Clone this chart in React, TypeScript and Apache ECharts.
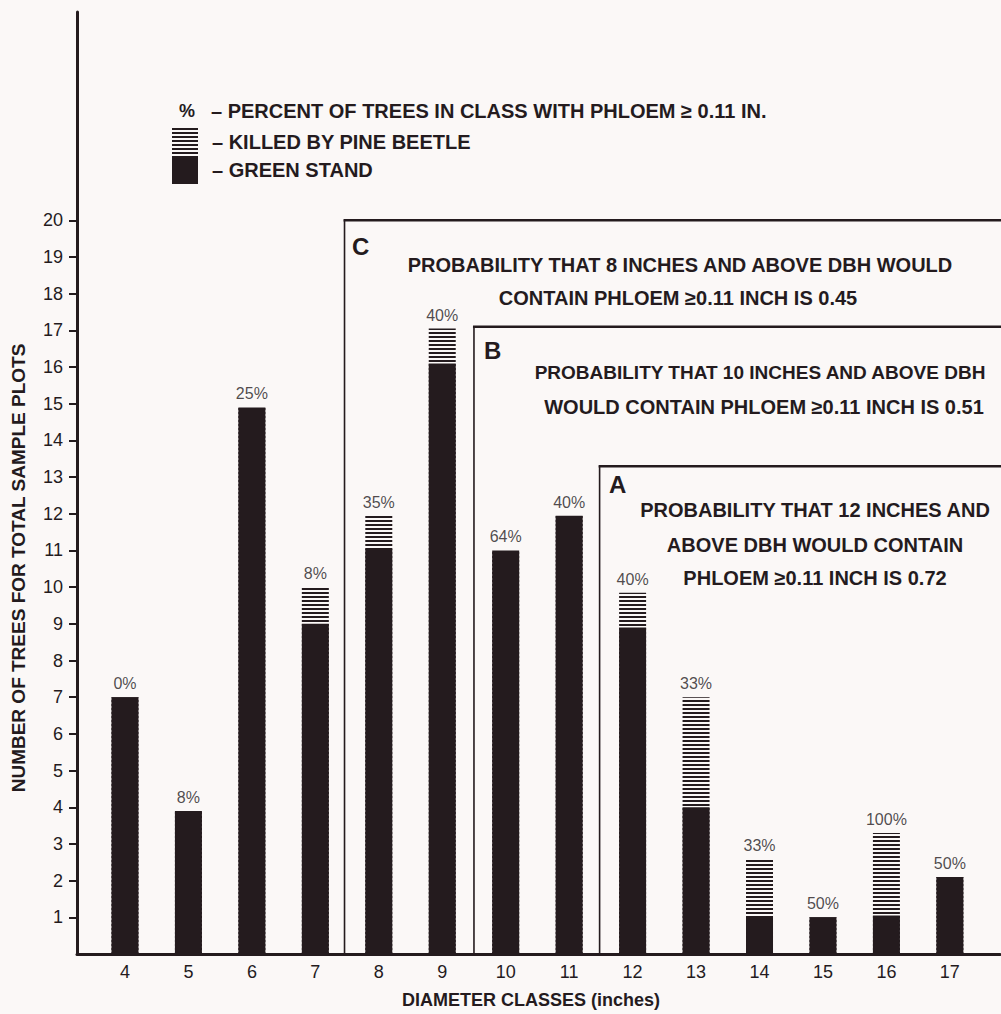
import React, { useEffect, useRef } from "react";
import * as echarts from "echarts";

// ---- data ----
const classes = [4, 5, 6, 7, 8, 9, 10, 11, 12, 13, 14, 15, 16, 17];
const greenStand = [7, 3.9, 14.9, 9, 11.05, 16.1, 11, 11.95, 8.9, 4, 1, 1, 1.05, 2.1];
const killedByBeetle = [0, 0, 0, 1, 0.9, 0.95, 0, 0, 0.95, 3, 1.6, 0, 2.25, 0];
const percentLabels = ["0%", "8%", "25%", "8%", "35%", "40%", "64%", "40%", "40%", "33%", "33%", "50%", "100%", "50%"];
const yTickValues = [1, 2, 3, 4, 5, 6, 7, 8, 9, 10, 11, 12, 13, 14, 15, 16, 17, 18, 19, 20];
const boxLetters = ["C", "B", "A"];
const boxLeft = [7.46, 9.5, 11.48];
const boxTop = [20, 17.1, 13.3];

const INK = "#241b1e";
const BG = "#fbf8f7";
const FONT = "'Liberation Sans', Arial, sans-serif";

export default function App() {
  const ref = useRef<HTMLDivElement>(null);

  useEffect(() => {
    if (!ref.current) return;
    const chart = echarts.init(ref.current, undefined, { renderer: "svg" });

    const c = document.createElement("canvas");
    c.width = 4;
    c.height = 4;
    const ctx = c.getContext("2d")!;
    ctx.fillStyle = BG;
    ctx.fillRect(0, 0, 4, 4);
    ctx.fillStyle = INK;
    ctx.fillRect(0, 0, 4, 2);
    const hatch: any = { image: c.toDataURL(), repeat: "repeat", imageWidth: 4, imageHeight: 4 };

    // total height of each bar = green stand + killed by beetle
    const totals = classes.map((_, i) => greenStand[i] + killedByBeetle[i]);
    const boldText = (text: string, x: number, y: number, size = 20, align = "center") => ({
      type: "text",
      x,
      y,
      style: {
        text,
        fill: INK,
        font: `bold ${size}px ${FONT}`,
        textAlign: align,
        textVerticalAlign: "middle",
      },
    });

    const option: any = {
      animation: false,
      backgroundColor: BG,
      textStyle: { fontFamily: FONT, color: INK },
      grid: { left: 77, right: 1, top: 12, bottom: 57, containLabel: false },
      legend: {
        orient: "vertical",
        left: 172,
        top: 128,
        padding: 0,
        itemWidth: 26,
        itemHeight: 28,
        itemGap: 0,
        icon: "rect",
        data: ["KILLED BY PINE BEETLE", "GREEN STAND"],
        formatter: (name: string) => "\u2013 " + name,
        textStyle: {
          fontFamily: FONT,
          fontWeight: "bold",
          fontSize: 20,
          color: INK,
          padding: [0, 0, 8, 9],
        },
        selectedMode: false,
      },
      xAxis: {
        type: "value",
        min: 3.244,
        max: 17.79,
        name: "DIAMETER CLASSES (inches)",
        nameLocation: "middle",
        nameGap: 37,
        nameTextStyle: { fontFamily: FONT, fontWeight: "bold", fontSize: 18, color: INK, padding: [0, 15, 0, 0] },
        axisLine: { show: true, lineStyle: { color: INK, width: 3 } },
        axisTick: { show: false },
        splitLine: { show: false },
        axisLabel: {
          customValues: classes,
          fontFamily: FONT,
          fontSize: 18,
          color: INK,
          margin: 9,
        },
      },
      yAxis: {
        type: "value",
        min: 0,
        max: 25.68,
        axisLine: { show: true, lineStyle: { color: INK, width: 3 } },
        axisTick: { show: true, customValues: yTickValues, length: 8, lineStyle: { color: INK, width: 2 } },
        splitLine: { show: false },
        axisLabel: {
          customValues: yTickValues,
          fontFamily: FONT,
          fontSize: 18,
          color: INK,
          margin: 14,
        },
      },
      series: [
        {
          type: "custom",
          name: "boxes",
          clip: false,
          silent: true,
          data: boxLeft.map((x, i) => [x, boxTop[i]]),
          renderItem: (params: any, api: any) => {
            const x = api.value(0);
            const top = api.value(1);
            const p0 = api.coord([x, 0]);
            const p1 = api.coord([x, top]);
            return {
              type: "group",
              children: [
                { type: "line", shape: { x1: p0[0], y1: p0[1], x2: p1[0], y2: p1[1] }, style: { stroke: INK, lineWidth: 1.6 } },
                { type: "line", shape: { x1: p1[0] - 1, y1: p1[1], x2: api.getWidth(), y2: p1[1] }, style: { stroke: INK, lineWidth: 2.5 } },
              ],
            };
          },
          z: 1,
        },
        {
          type: "bar",
          name: "KILLED BY PINE BEETLE",
          barWidth: 27,
          itemStyle: { color: hatch },
          data: classes.map((x, i) => [x, totals[i]]),
          z: 3,
        },
        {
          type: "bar",
          name: "GREEN STAND",
          barWidth: 27,
          barGap: "-100%",
          itemStyle: { color: INK },
          data: classes.map((x, i) => [x, greenStand[i]]),
          z: 4,
        },
        {
          type: "scatter",
          name: "percent",
          symbolSize: 1,
          itemStyle: { color: "rgba(0,0,0,0)" },
          data: classes.map((x, i) => [x, totals[i]]),
          label: {
            show: true,
            position: "top",
            distance: 5,
            fontFamily: FONT,
            fontSize: 16,
            color: INK,
            formatter: (p: any) => percentLabels[p.dataIndex],
          },
          z: 5,
        },
      ],
      graphic: [
        boldText("%", 187, 111, 18),
        boldText("\u2013 PERCENT OF TREES IN CLASS WITH PHLOEM \u2265 0.11 IN.", 211, 111, 20, "left"),
        {
          type: "text",
          x: 18,
          y: 568,
          rotation: Math.PI / 2,
          style: {
            text: "NUMBER OF TREES FOR TOTAL SAMPLE PLOTS",
            fill: INK,
            font: `bold 19px ${FONT}`,
            textAlign: "center",
            textVerticalAlign: "middle",
          },
        },
        boldText(boxLetters[0], 352, 246, 24, "left"),
        boldText("PROBABILITY THAT 8 INCHES AND ABOVE DBH WOULD", 680, 265),
        boldText("CONTAIN PHLOEM \u22650.11 INCH IS 0.45", 678, 298),
        boldText(boxLetters[1], 484, 350, 24, "left"),
        boldText("PROBABILITY THAT 10 INCHES AND ABOVE DBH", 760, 372, 19),
        boldText("WOULD CONTAIN PHLOEM \u22650.11 INCH IS 0.51", 764, 407),
        boldText(boxLetters[2], 609, 484, 24, "left"),
        boldText("PROBABILITY THAT 12 INCHES AND", 815, 510),
        boldText("ABOVE DBH WOULD CONTAIN", 815, 545),
        boldText("PHLOEM \u22650.11 INCH IS 0.72", 815, 578),
      ],
    };

    chart.setOption(option);
    return () => chart.dispose();
  }, []);

  return (
    <div
      ref={ref}
      style={{ position: "absolute", left: 0, top: 0, width: 1001, height: 1014, background: BG }}
    />
  );
}
